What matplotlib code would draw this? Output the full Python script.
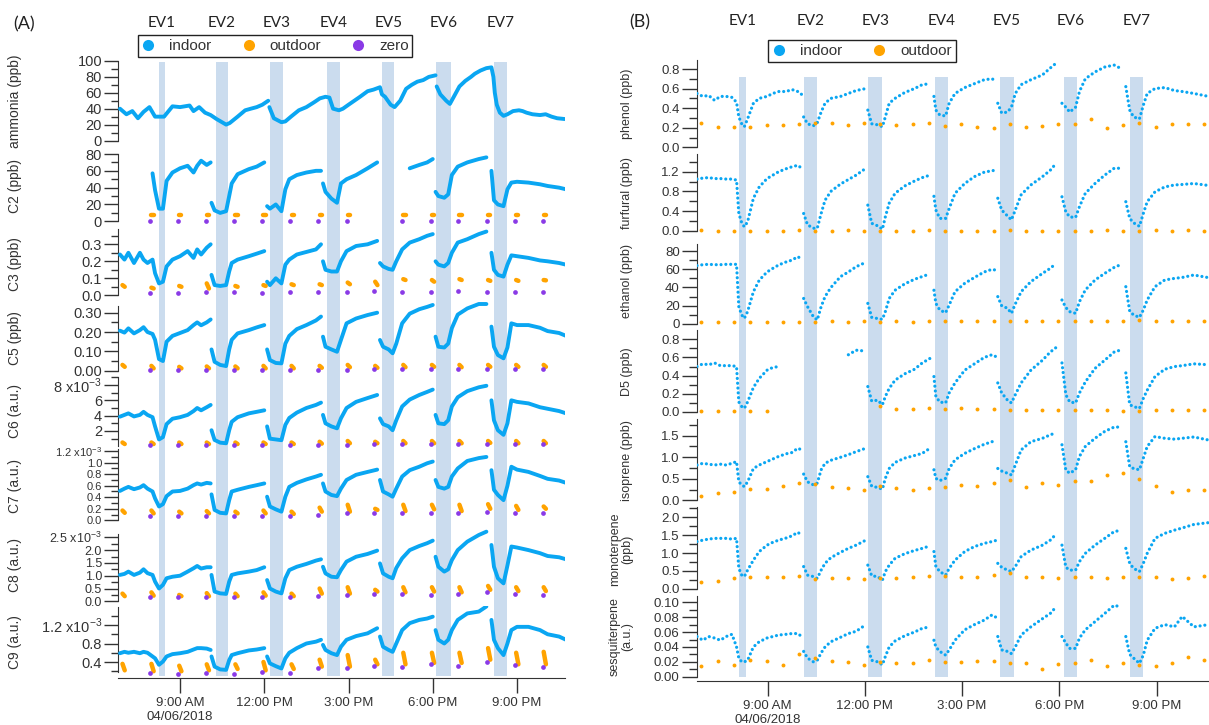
import numpy as np
import matplotlib.pyplot as plt
from matplotlib.ticker import FixedLocator, FuncFormatter
from matplotlib.lines import Line2D
from matplotlib.transforms import blended_transform_factory

plt.rcParams['font.family'] = ['Liberation Sans', 'DejaVu Sans']

nan = np.nan
W, H = 1209, 725

# ---------------- data (time in hours of 04/06/2018) ----------------
ev_names = ['EV1', 'EV2', 'EV3', 'EV4', 'EV5', 'EV6', 'EV7']
events_a = [(8.25, 8.46), (10.28, 10.71), (12.21, 12.67), (14.24, 14.70),
            (16.20, 16.63), (18.10, 18.64), (20.17, 20.64)]
events_b = [(8.11, 8.34), (10.13, 10.53), (12.11, 12.53), (14.16, 14.57),
            (16.17, 16.59), (18.14, 18.53), (20.17, 20.57)]

# panel A: ammonia
amm_t = [6.86, 7.09, 7.30, 7.50, 7.70, 7.91, 8.11, 8.43, 8.73, 9.00, 9.34, 9.48,
         9.68, 9.89, 10.09, 10.30, 10.64, 10.77, 11.05, 11.32, 11.52, 11.73, 11.93, 12.14,
         12.18, 12.34, 12.61, 12.75, 12.95, 13.23, 13.50, 13.77, 13.98, 14.18, 14.32, 14.45,
         14.66, 14.80, 15.00, 15.41, 15.68, 15.89, 16.12, 16.19, 16.30, 16.50, 16.64, 16.84,
         17.05, 17.25, 17.45, 17.66, 17.86, 18.10,
         18.14, 18.27, 18.48, 18.61, 18.75, 18.95, 19.16, 19.36, 19.50, 19.70, 19.91, 20.09,
         20.16, 20.21, 20.28, 20.39, 20.52, 20.66, 20.86, 21.07, 21.20, 21.34, 21.55, 21.82,
         22.02, 22.23, 22.43, 22.70]
ammonia = [40, 33, 37, 28, 36, 42, 30, 30, 43, 42, 44, 37, 42, 35, 32, 27, 20, 22, 30, 38,
           40, 42, 45, 50,
           42, 28, 23, 24, 30, 38, 42, 48, 53, 55, 54, 40, 38, 40, 45, 55, 62, 64, 67, 58,
           55, 45, 42, 50, 65, 70, 74, 76, 80, 82,
           68, 58, 50, 46, 55, 68, 75, 80, 84, 88, 91, 92,
           80, 60, 45, 35, 31, 33, 37, 38, 37, 35, 33, 32, 33, 30, 28, 27]
amm_breaks = [24, 54]

# panel A: C2..C9 indoor, shared sample times
t_a = [6.86, 7.02, 7.16, 7.36, 7.57, 7.70, 7.84, 8.02, 8.11, 8.25, 8.39, 8.52, 8.73, 9.00,
       9.27, 9.48, 9.61, 9.75, 9.95, 10.09,
       10.12, 10.23, 10.43, 10.64, 10.75, 10.84, 11.05, 11.45, 11.73, 12.00,
       12.10, 12.20, 12.41, 12.61, 12.75, 12.89, 13.16, 13.50, 13.84, 14.02,
       14.09, 14.18, 14.39, 14.59, 14.73, 14.93, 15.27, 15.68, 16.02,
       16.12, 16.23, 16.43, 16.57, 16.70, 16.91, 17.18, 17.52, 17.80, 18.00,
       18.10, 18.20, 18.41, 18.55, 18.68, 18.89, 19.23, 19.64, 19.91,
       20.09, 20.18, 20.32, 20.52, 20.66, 20.80, 21.00, 21.41, 21.82, 22.09, 22.50, 22.75]
breaks_a = [20, 30, 40, 49, 59, 68]

c2 = [nan, nan, nan, nan, nan, nan, nan, 57, 37, 15, 15, 48, 58, 63, 66, 58, 66, 72, 67, 70,
      22, 13, 10, 12, 30, 45, 56, 62, 65, 70,
      18, 15, 20, 12, 38, 50, 55, 58, 60, 60,
      45, 35, 27, 22, 45, 50, 55, 63, 70,
      nan, nan, nan, nan, nan, nan, 63, 67, 70, 74,
      35, 30, 28, 32, 55, 65, 70, 74, 76,
      60, 25, 20, 18, 38, 46, 47, 46, 44, 42, 40, 38]
c3 = [0.24, 0.21, 0.25, 0.19, 0.25, 0.21, 0.19, 0.21, 0.13, 0.07, 0.08, 0.17, 0.21, 0.23,
      0.26, 0.22, 0.27, 0.24, 0.28, 0.30,
      0.12, 0.06, 0.055, 0.06, 0.14, 0.19, 0.21, 0.23, 0.245, 0.26,
      0.08, 0.06, 0.10, 0.07, 0.18, 0.21, 0.24, 0.255, 0.27, 0.30,
      0.20, 0.15, 0.14, 0.14, 0.20, 0.26, 0.29, 0.30, 0.32,
      0.19, 0.17, 0.155, 0.15, 0.20, 0.27, 0.31, 0.33, 0.35, 0.36,
      0.20, 0.18, 0.17, 0.19, 0.25, 0.31, 0.33, 0.36, 0.375,
      0.25, 0.15, 0.12, 0.11, 0.18, 0.235, 0.23, 0.22, 0.205, 0.20, 0.19, 0.18]
c5 = [0.207, 0.197, 0.219, 0.193, 0.21, 0.225, 0.20, 0.19, 0.16, 0.06, 0.05, 0.15, 0.18,
      0.195, 0.21, 0.236, 0.25, 0.235, 0.25, 0.265,
      0.11, 0.046, 0.03, 0.024, 0.11, 0.16, 0.193, 0.21, 0.224, 0.236,
      0.11, 0.055, 0.04, 0.038, 0.14, 0.18, 0.215, 0.236, 0.26, 0.28,
      0.176, 0.124, 0.11, 0.098, 0.159, 0.245, 0.27, 0.288, 0.30,
      0.159, 0.124, 0.11, 0.09, 0.14, 0.245, 0.295, 0.318, 0.33, 0.34,
      0.176, 0.124, 0.12, 0.14, 0.22, 0.29, 0.322, 0.345, 0.345,
      0.228, 0.124, 0.081, 0.064, 0.12, 0.245, 0.236, 0.236, 0.222, 0.205, 0.195, 0.18]
c6 = [3.87, 4.1, 4.3, 3.9, 4.1, 4.5, 4.1, 3.8, 2.6, 0.9, 1.2, 2.9, 3.6, 3.8, 4.1, 4.6, 5.0,
      4.7, 5.1, 5.4,
      2.1, 0.83, 0.48, 0.4, 2.1, 3.2, 3.8, 4.3, 4.5, 4.7,
      2.6, 1.0, 0.9, 0.8, 2.8, 3.7, 4.4, 5.0, 5.4, 5.7,
      4.1, 3.0, 2.6, 2.35, 3.65, 5.0, 5.8, 6.3, 6.7,
      3.65, 2.9, 2.6, 2.1, 3.4, 5.2, 6.1, 6.7, 7.1, 7.4,
      4.1, 3.0, 2.9, 3.4, 5.2, 6.4, 7.2, 7.7, 7.9,
      6.0, 3.4, 2.1, 1.5, 3.0, 6.0, 5.8, 5.6, 5.1, 4.9, 4.6, 4.3]
c7 = [0.51, 0.55, 0.58, 0.54, 0.57, 0.61, 0.55, 0.50, 0.38, 0.24, 0.28, 0.42, 0.50, 0.51,
      0.55, 0.61, 0.64, 0.62, 0.65, 0.64,
      0.45, 0.18, 0.13, 0.12, 0.35, 0.50, 0.53, 0.58, 0.61, 0.64,
      0.41, 0.24, 0.19, 0.15, 0.41, 0.58, 0.65, 0.71, 0.76, 0.79,
      0.64, 0.50, 0.44, 0.42, 0.55, 0.70, 0.79, 0.84, 0.88,
      0.70, 0.50, 0.45, 0.41, 0.55, 0.76, 0.87, 0.93, 0.99, 1.02,
      0.70, 0.58, 0.55, 0.58, 0.76, 0.90, 1.03, 1.08, 1.10,
      0.87, 0.53, 0.44, 0.35, 0.60, 0.93, 0.88, 0.84, 0.77, 0.72, 0.69, 0.65]
c8 = [1.03, 1.07, 1.16, 1.03, 1.12, 1.25, 1.10, 1.03, 0.77, 0.50, 0.64, 0.90, 0.96, 1.00,
      1.16, 1.29, 1.38, 1.28, 1.33, 1.33,
      1.03, 0.38, 0.31, 0.29, 0.77, 1.03, 1.09, 1.16, 1.22, 1.33,
      0.83, 0.50, 0.38, 0.31, 0.90, 1.22, 1.35, 1.46, 1.59, 1.64,
      1.35, 1.09, 0.96, 0.94, 1.22, 1.55, 1.74, 1.85, 1.98,
      1.48, 1.09, 0.96, 0.90, 1.30, 1.68, 2.00, 2.16, 2.27, 2.37,
      1.74, 1.35, 1.16, 1.25, 1.61, 2.00, 2.33, 2.59, 2.72,
      2.20, 1.35, 0.90, 0.70, 1.40, 2.14, 2.10, 2.00, 1.88, 1.77, 1.72, 1.64]
c9 = [0.59, 0.62, 0.60, 0.62, 0.59, 0.62, 0.60, 0.52, 0.48, 0.34, 0.41, 0.52, 0.57, 0.59,
      0.62, 0.67, 0.70, 0.70, 0.69, 0.66,
      0.52, 0.30, 0.24, 0.23, 0.44, 0.55, 0.59, 0.65, 0.67, 0.70,
      0.52, 0.37, 0.31, 0.26, 0.48, 0.60, 0.70, 0.80, 0.84, 0.88,
      0.77, 0.66, 0.59, 0.55, 0.73, 0.88, 0.96, 1.02, 1.13,
      0.95, 0.73, 0.66, 0.62, 0.80, 1.09, 1.24, 1.31, 1.34, 1.38,
      1.09, 0.88, 0.80, 0.88, 1.09, 1.31, 1.45, 1.49, 1.60,
      1.31, 0.88, 0.70, 0.55, 0.80, 1.09, 1.16, 1.16, 1.09, 1.00, 0.95, 0.88]

# panel A: outdoor sampling (start / end of each period) and zero checks
out_a_t0 = [6.95, 7.98, 8.97, 9.95, 10.97, 11.97, 12.97, 13.97, 14.97, 15.95, 16.95, 17.97,
            18.95, 19.97, 20.97, 21.95]
out_a_t1 = [7.03, 8.06, 9.05, 10.03, 11.05, 12.05, 13.05, 14.05, 15.05, 16.03, 17.03, 18.05,
            19.03, 20.05, 21.05, 22.03]
zero_a_t = [7.93, 8.93, 9.91, 10.91, 11.91, 12.91, 13.91, 14.93, 15.89, 16.91, 17.93, 18.91,
            19.93, 20.93, 21.93]

c2_out = [nan, 7, 7, 7, 7, 7, 7, 7, 7, nan, 8, 7, 8, 7, 7, 8]
c2_zero = [0.3, 0.3, 0.3, 0.3, 0.3, 0.3, 0.3, 0.3, nan, 0.3, 0.3, 0.3, 0.3, 0.3, 0.3]
c3_out_hi = [0.06, 0.045, 0.055, 0.07, 0.055, 0.06, 0.065, 0.065, 0.075, 0.08, 0.095, 0.09,
             0.095, 0.09, 0.09, 0.09]
c3_out_lo = [0.05, 0.04, 0.05, 0.04, 0.05, 0.055, 0.06, 0.06, 0.065, 0.06, 0.09, 0.08, 0.09,
             0.085, 0.085, 0.088]
c3_zero = [0.016, 0.012, 0.02, 0.022, 0.016, 0.022, 0.022, 0.018, 0.027, 0.018, 0.022, 0.027,
           0.022, 0.022, 0.02]
c5_out_hi = [0.03, 0.025, 0.02, 0.022, 0.022, 0.025, 0.025, 0.025, 0.03, 0.025, 0.03, 0.03,
             0.03, 0.03, 0.03, 0.03]
c5_out_lo = [0.02, 0.012, 0.012, 0.012, 0.012, 0.012, 0.012, 0.015, 0.018, 0.015, 0.018, 0.02,
             0.018, 0.02, 0.02, 0.02]
c5_zero = [0.005, 0.005, 0.005, 0.005, 0.005, 0.005, 0.006, 0.006, 0.007, 0.007, 0.007,
           0.007, 0.008, 0.007, 0.007]
c6_out_hi = [0.5, 0.5, 0.5, 0.5, 0.5, 0.5, 0.5, 0.6, 0.7, 0.6, 0.7, 0.7, 0.7, 0.7, 0.7, 0.7]
c6_out_lo = [0.3, 0.3, 0.3, 0.3, 0.3, 0.3, 0.3, 0.35, 0.4, 0.4, 0.4, 0.4, 0.4, 0.45, 0.4, 0.4]
c6_zero = [0.15, 0.15, 0.15, 0.15, 0.15, 0.15, 0.2, 0.2, 0.25, 0.25, 0.25, 0.25, 0.3, 0.25,
           0.25]
c7_out_hi = [0.17, 0.17, 0.15, 0.16, 0.15, 0.17, 0.15, 0.22, 0.27, 0.20, 0.27, 0.27, 0.27,
             0.28, 0.25, 0.24]
c7_out_lo = [0.13, 0.12, 0.12, 0.12, 0.12, 0.12, 0.11, 0.15, 0.15, 0.18, 0.16, 0.19, 0.16,
             0.20, 0.18, 0.20]
c7_zero = [0.07, 0.07, 0.07, 0.07, 0.08, 0.07, 0.10, 0.12, 0.13, 0.13, 0.12, 0.13, 0.15,
           0.12, 0.12]
c8_out_hi = [0.30, 0.35, 0.25, 0.32, 0.30, 0.35, 0.30, 0.50, 0.55, 0.45, 0.55, 0.55, 0.55,
             0.60, 0.55, 0.55]
c8_out_lo = [0.20, 0.22, 0.20, 0.20, 0.20, 0.22, 0.20, 0.30, 0.30, 0.38, 0.35, 0.38, 0.35,
             0.45, 0.40, 0.40]
c8_zero = [0.18, 0.15, 0.17, 0.15, 0.18, 0.18, 0.22, 0.25, 0.27, 0.28, 0.25, 0.28, 0.35,
           0.28, 0.25]
c9_out_hi = [0.36, 0.36, 0.32, 0.35, 0.35, 0.40, 0.35, 0.45, 0.55, 0.45, 0.60, 0.60, 0.60,
             0.70, 0.60, 0.62]
c9_out_lo = [0.22, 0.20, 0.20, 0.22, 0.25, 0.22, 0.25, 0.30, 0.30, 0.35, 0.35, 0.38, 0.38,
             0.45, 0.35, 0.35]
c9_zero = [0.16, 0.15, 0.16, 0.15, 0.18, 0.165, 0.27, 0.28, 0.31, 0.29, 0.36, 0.32, 0.39,
           0.33, 0.29]

# panel B: indoor, shared sample times
t_b = [6.82, 7.00, 7.18, 7.36, 7.54, 7.72, 7.90, 8.04, 8.11, 8.20, 8.28, 8.38, 8.56, 8.74,
       8.98, 9.16, 9.34, 9.57, 9.75, 9.93, 10.05,
       10.11, 10.23, 10.41, 10.53, 10.65, 10.77, 10.95, 11.25, 11.49, 11.73, 12.03,
       12.09, 12.21, 12.39, 12.54, 12.63, 12.75, 12.93, 13.23, 13.53, 13.77, 14.01,
       14.13, 14.19, 14.31, 14.49, 14.60, 14.78, 15.08, 15.38, 15.68, 15.92, 16.04,
       16.10, 16.22, 16.40, 16.52, 16.64, 16.82, 17.12, 17.48, 17.72, 17.90,
       18.08, 18.20, 18.32, 18.50, 18.62, 18.80, 19.10, 19.40, 19.69, 19.87,
       20.05, 20.17, 20.29, 20.47, 20.59, 20.71, 20.95, 21.25, 21.55, 21.79, 22.15, 22.60]
breaks_b = [21, 32, 43, 54, 64, 74]

phenol = [0.55, 0.52, 0.53, 0.48, 0.52, 0.52, 0.51, 0.46, 0.31, 0.24, 0.21, 0.29, 0.45, 0.50,
          0.52, 0.55, 0.57, 0.57, 0.59, 0.57, 0.54,
          0.31, 0.24, 0.22, 0.25, 0.36, 0.45, 0.50, 0.52, 0.55, 0.58, 0.60,
          0.38, 0.24, 0.23, 0.21, 0.31, 0.45, 0.50, 0.56, 0.60, 0.64, 0.65,
          0.52, 0.38, 0.33, 0.32, 0.45, 0.55, 0.61, 0.65, 0.69, 0.70, 0.68,
          0.45, 0.35, 0.36, 0.41, 0.55, 0.64, 0.69, 0.74, 0.81, 0.86,
          0.45, 0.41, 0.36, 0.41, 0.57, 0.70, 0.77, 0.82, 0.84, 0.81,
          0.62, 0.38, 0.31, 0.29, 0.43, 0.55, 0.60, 0.61, 0.58, 0.57, 0.55, 0.52]
furfural = [1.05, 1.07, 1.08, 1.06, 1.06, 1.05, 1.05, 1.03, 0.35, 0.16, 0.08, 0.18, 0.66, 0.89,
            1.06, 1.13, 1.20, 1.26, 1.30, 1.33, 1.27,
            0.35, 0.12, 0.05, 0.05, 0.35, 0.62, 0.80, 0.95, 1.04, 1.13, 1.27,
            0.52, 0.15, 0.10, 0.03, 0.28, 0.56, 0.76, 0.91, 1.01, 1.08, 1.13,
            0.70, 0.42, 0.25, 0.25, 0.45, 0.76, 0.96, 1.10, 1.19, 1.22, 1.23,
            0.66, 0.42, 0.30, 0.22, 0.42, 0.73, 0.93, 1.10, 1.23, 1.37,
            0.69, 0.38, 0.28, 0.27, 0.49, 0.76, 0.96, 1.13, 1.27, 1.27,
            0.59, 0.25, 0.16, 0.09, 0.35, 0.59, 0.79, 0.89, 0.93, 0.94, 0.96, 0.92]
ethanol = [64, 65, 65.4, 65, 65, 65.4, 65.4, 65.4, 19, 9.9, 6.2, 13.5, 35.4, 48, 57, 61,
           64.7, 68, 70, 73.8, 71,
           28, 19, 8, 4.4, 19, 30, 40, 52, 57, 62.8, 67.6,
           22.6, 7.3, 6, 5.1, 13.5, 28, 37, 44, 49, 52, 55,
           37, 22.6, 15.3, 12.4, 20.8, 35.4, 44.6, 51, 57, 59.9, 59,
           30, 20, 17.2, 11.7, 22, 35.4, 46.4, 55.5, 61, 66.5,
           26.3, 18, 13.5, 11.7, 24.5, 37.3, 48.2, 55.5, 62, 64.7,
           40.9, 14, 9.9, 7.3, 15.3, 26.3, 40.9, 48.2, 50, 51, 53.7, 50.8]
d5 = [0.50, 0.53, 0.52, 0.54, 0.51, 0.51, 0.51, 0.50, 0.11, 0.06, 0.04, 0.11, 0.27, 0.37,
      0.46, 0.49, 0.50, nan, nan, nan, nan,
      nan, nan, nan, nan, nan, nan, nan, nan, 0.63, 0.68, 0.67,
      0.28, 0.12, 0.13, 0.08, 0.17, 0.26, 0.35, 0.42, 0.47, 0.54, 0.59,
      0.39, 0.17, 0.11, 0.10, 0.21, 0.32, 0.46, 0.53, 0.60, 0.63, 0.61,
      0.32, 0.21, 0.13, 0.10, 0.19, 0.32, 0.46, 0.57, 0.66, 0.71,
      0.54, 0.19, 0.11, 0.10, 0.21, 0.33, 0.48, 0.57, 0.66, 0.68,
      0.43, 0.08, 0.06, 0.04, 0.15, 0.24, 0.39, 0.47, 0.50, 0.51, 0.53, 0.52]
isoprene = [0.82, 0.86, 0.84, 0.82, 0.84, 0.82, 0.86, 0.90, 0.43, 0.36, 0.32, 0.43, 0.74, 0.82,
            0.90, 0.96, 1.02, 1.08, 1.11, 1.21, 1.17,
            0.61, 0.43, 0.36, 0.40, 0.71, 0.86, 0.93, 1.00, 1.06, 1.13, 1.21,
            0.55, 0.33, 0.30, 0.26, 0.51, 0.74, 0.88, 0.98, 1.04, 1.09, 1.21,
            0.71, 0.51, 0.46, 0.51, 0.74, 0.94, 1.09, 1.20, 1.30, 1.36, 1.39,
            0.74, 0.68, 0.63, 0.59, 0.82, 1.17, 1.36, 1.44, 1.52, 1.57,
            1.29, 0.70, 0.63, 0.71, 1.02, 1.25, 1.44, 1.60, 1.70, 1.70,
            1.36, 0.78, 0.74, 0.71, 0.98, 1.25, 1.48, 1.44, 1.42, 1.44, 1.47, 1.40]
monoterpene = [1.32, 1.36, 1.39, 1.41, 1.41, 1.41, 1.39, 1.41, 0.57, 0.38, 0.34, 0.52, 0.80,
               1.04, 1.22, 1.30, 1.36, 1.42, 1.48, 1.58, 1.50,
               0.62, 0.38, 0.34, 0.29, 0.52, 0.71, 0.87, 1.02, 1.13, 1.22, 1.36,
               0.66, 0.36, 0.34, 0.24, 0.48, 0.66, 0.85, 0.98, 1.07, 1.13, 1.20,
               1.04, 0.62, 0.48, 0.38, 0.57, 0.80, 1.04, 1.18, 1.27, 1.32, 1.35,
               0.71, 0.60, 0.52, 0.48, 0.62, 0.90, 1.08, 1.22, 1.36, 1.53,
               1.22, 0.60, 0.52, 0.52, 0.76, 0.99, 1.22, 1.41, 1.60, 1.63,
               1.13, 0.71, 0.57, 0.48, 0.71, 0.99, 1.41, 1.55, 1.64, 1.70, 1.80, 1.85]
sesquiterpene = [0.054, 0.049, 0.054, 0.052, 0.049, 0.054, 0.057, 0.040, 0.025, 0.020, 0.020,
                 0.022, 0.040, 0.047, 0.052, 0.054, 0.056, 0.057, 0.058, 0.058, 0.054,
                 0.034, 0.025, 0.020, 0.022, 0.032, 0.040, 0.047, 0.053, 0.058, 0.061, 0.070,
                 0.040, 0.022, 0.020, 0.016, 0.027, 0.040, 0.048, 0.055, 0.060, 0.065, 0.067,
                 0.049, 0.040, 0.034, 0.029, 0.036, 0.049, 0.063, 0.070, 0.076, 0.083, 0.080,
                 0.054, 0.036, 0.034, 0.031, 0.040, 0.056, 0.067, 0.078, 0.085, 0.094,
                 0.054, 0.045, 0.038, 0.038, 0.052, 0.063, 0.074, 0.085, 0.096, 0.094,
                 0.054, 0.030, 0.025, 0.018, 0.029, 0.049, 0.065, 0.070, 0.067, 0.081, 0.067,
                 0.070]

# panel B: outdoor samples
out_b_t = [6.95, 7.47, 7.97, 8.47, 8.97, 9.47, 9.97, 10.47, 10.97, 11.47, 11.97, 12.47,
           12.97, 13.47, 13.97, 14.47, 14.97, 15.47, 15.97, 16.47, 16.97, 17.47, 17.97, 18.47,
           18.97, 19.47, 19.97, 20.47, 20.97, 21.47, 21.97, 22.47]
phenol_out = [0.25, 0.21, 0.21, 0.21, 0.23, 0.23, 0.24, 0.25, 0.25, 0.23, 0.25, 0.24, 0.23,
              0.24, 0.25, 0.22, 0.24, 0.21, 0.20, 0.24, 0.21, 0.22, 0.24, 0.24, 0.29, 0.20,
              0.23, 0.25, 0.21, 0.24, 0.24, 0.24]
furfural_out = [0.01, 0.0, 0.0, 0.0, 0.0, 0.0, 0.01, 0.0, 0.0, 0.01, 0.0, 0.0, 0.0, 0.0, 0.01,
                0.0, 0.0, 0.0, 0.0, 0.01, 0.0, 0.0, 0.0, 0.0, 0.0, 0.01, 0.0, 0.0, 0.01, 0.0,
                0.01, 0.0]
ethanol_out = [2, 2, 2, 2, 2, 2, 2, 2, 3, 2, 3, 2, 3, 2, 3, 3, 3, 3, 3, 3, 3, 3, 3, 3, 3, 3,
               3, 4, 3, 3, 3, 3]
d5_out = [0.01, 0.01, 0.01, 0.01, 0.01, nan, nan, nan, nan, nan, nan, 0.07, 0.03, 0.03, 0.04,
          0.03, 0.04, 0.03, 0.03, 0.02, 0.02, 0.02, 0.02, 0.02, 0.02, 0.02, 0.01, 0.01, 0.02,
          0.02, 0.02, 0.02]
isoprene_out = [0.10, 0.16, 0.20, 0.26, 0.26, 0.34, 0.40, 0.38, 0.32, 0.28, 0.24, 0.34, 0.28,
                0.24, 0.28, 0.32, 0.36, 0.34, 0.41, 0.48, 0.32, 0.40, 0.36, 0.46, 0.44, 0.60,
                0.63, 0.49, 0.34, 0.20, 0.23, 0.23]
monoterpene_out = [0.20, 0.22, 0.29, 0.32, 0.34, 0.32, 0.36, 0.26, 0.29, 0.29, 0.28, 0.29,
                   0.29, 0.32, 0.36, 0.36, 0.34, 0.32, 0.37, 0.43, 0.32, 0.32, 0.29, 0.32,
                   0.34, 0.29, 0.32, 0.32, 0.32, 0.28, 0.29, 0.36]
sesquiterpene_out = [0.014, 0.021, 0.016, 0.022, 0.021, 0.016, 0.031, 0.025, 0.021, 0.020,
                     0.016, 0.020, 0.019, 0.018, 0.022, 0.020, 0.020, 0.021, 0.021, 0.018,
                     0.019, 0.011, 0.017, 0.019, 0.022, 0.014, 0.019, 0.016, 0.014, 0.018,
                     0.026, 0.022]

x_ticks = [9, 12, 15, 18, 21]
x_labels = ['9:00 AM\n04/06/2018', '12:00 PM', '3:00 PM', '6:00 PM', '9:00 PM']

# ---------------- styling ----------------
BLUE = '#0aa6f2'
ORANGE = '#ffa300'
PURPLE = '#8a3ae6'
BAND = '#cbdcee'
INK = '#333333'

fig = plt.figure(figsize=(W / 100, H / 100), dpi=100)


def px_axes(x0, x1, top, bot):
    return fig.add_axes([x0 / W, 1 - bot / H, (x1 - x0) / W, (bot - top) / H])


def ylim_from(top, bot, ref):
    v1, p1, v2, p2 = ref
    k = (p2 - p1) / (v1 - v2)
    return v2 + (p2 - bot) / k, v2 + (p2 - top) / k


def tick_fmt(dec, sci_at=None):
    def f(v, pos):
        s = f'{v:.{dec}f}'
        if sci_at is not None and abs(v - sci_at) < 1e-9:
            s += r' x10$^{\mathregular{-3}}$'
        return s
    return FuncFormatter(f)


def with_breaks(t, v, breaks):
    return np.insert(np.asarray(t, float), breaks, nan), np.insert(np.asarray(v, float), breaks, nan)


def style_axis(ax, spec, lsize, tlen):
    ax.set_ylim(*ylim_from(spec['box'][0], spec['box'][1], spec['ref']))
    for s in ['top', 'right', 'bottom']:
        ax.spines[s].set_visible(False)
    ax.spines['left'].set_bounds(*spec['spine'])
    ax.spines['left'].set_color(INK)
    ax.yaxis.set_major_locator(FixedLocator(spec['major']))
    ax.yaxis.set_minor_locator(FixedLocator(spec['minor']))
    ax.yaxis.set_major_formatter(tick_fmt(spec['dec'], spec.get('sci')))
    ax.tick_params(axis='y', which='major', length=tlen, width=1, pad=1.5,
                   labelsize=spec.get('lsize', lsize), colors=INK)
    ax.tick_params(axis='y', which='minor', length=tlen * 0.5, width=1, colors=INK)
    ax.tick_params(axis='x', which='both', bottom=False, labelbottom=False)
    ax.patch.set_alpha(0)


def bottom_axis(ax):
    ax.spines['bottom'].set_visible(True)
    ax.spines['bottom'].set_color(INK)
    ax.set_xticks(x_ticks)
    ax.set_xticklabels(x_labels)
    ax.tick_params(axis='x', which='major', bottom=True, labelbottom=True, length=11,
                   width=1, pad=3, labelsize=9.5, colors=INK)


# ---------------- panel A ----------------
left = [
    dict(label='ammonia (ppb)', box=(56, 146), ref=(100, 61, 0, 140.5), spine=(0, 100),
         major=[0, 20, 40, 60, 80, 100], minor=[10, 30, 50, 70, 90], dec=0),
    dict(label='C2 (ppb)', v=c2, out=(c2_out, c2_out), zero=c2_zero, box=(146, 226),
         ref=(80, 154, 0, 221.3), spine=(0, 80), major=[0, 20, 40, 60, 80],
         minor=[10, 30, 50, 70], dec=0),
    dict(label='C3 (ppb)', v=c3, out=(c3_out_hi, c3_out_lo), zero=c3_zero, box=(226, 302),
         ref=(0.3, 244.3, 0.0, 295.3), spine=(0, 0.39), major=[0, 0.1, 0.2, 0.3],
         minor=[0.05, 0.15, 0.25, 0.35], dec=1),
    dict(label='C5 (ppb)', v=c5, out=(c5_out_hi, c5_out_lo), zero=c5_zero, box=(302, 375),
         ref=(0.30, 312.7, 0.0, 370.7), spine=(0, 0.335), major=[0, 0.1, 0.2, 0.3],
         minor=[0.05, 0.15, 0.25], dec=2),
    dict(label='C6 (a.u.)', v=c6, out=(c6_out_hi, c6_out_lo), zero=c6_zero, box=(375, 448),
         ref=(8, 385, 2, 431), spine=(0.1, 9.1), major=[2, 4, 6, 8], minor=[1, 3, 5, 7, 9],
         dec=0, sci=8),
    dict(label='C7 (a.u.)', v=c7, out=(c7_out_hi, c7_out_lo), zero=c7_zero, box=(448, 524),
         ref=(1.0, 462.7, 0.0, 520.3), spine=(0, 1.24),
         major=[0, 0.2, 0.4, 0.6, 0.8, 1.0, 1.2], minor=[0.1, 0.3, 0.5, 0.7, 0.9, 1.1],
         dec=1, sci=1.2, lsize=8),
    dict(label='C8 (a.u.)', v=c8, out=(c8_out_hi, c8_out_lo), zero=c8_zero, box=(524, 606),
         ref=(2.5, 537.3, 0.0, 601.3), spine=(0, 2.62), major=[0, 0.5, 1.0, 1.5, 2.0, 2.5],
         minor=[0.25, 0.75, 1.25, 1.75, 2.25], dec=1, sci=2.5, lsize=9),
    dict(label='C9 (a.u.)', v=c9, out=(c9_out_hi, c9_out_lo), zero=c9_zero, box=(606, 678),
         ref=(1.2, 625, 0.4, 662), spine=(0.18, 1.58), major=[0.4, 0.8, 1.2],
         minor=[0.2, 0.6, 1.0, 1.4], dec=1, sci=1.2),
]

axes_a = []
for i, spec in enumerate(left):
    ax = px_axes(118, 565, *spec['box'])
    ax.set_xlim(6.79, 22.71)
    style_axis(ax, spec, 10.5, 10)
    if i == 0:
        tt, vv = with_breaks(amm_t, ammonia, amm_breaks)
    else:
        tt, vv = with_breaks(t_a, spec['v'], breaks_a)
    ax.plot(tt, vv, color=BLUE, lw=2.8, solid_capstyle='round', solid_joinstyle='round',
            zorder=3)
    if 'out' in spec:
        hi, lo = spec['out']
        for t0, t1, a, b in zip(out_a_t0, out_a_t1, hi, lo):
            ax.plot([t0, t1], [a, b], color=ORANGE, lw=3.2, solid_capstyle='round', zorder=3)
        ax.plot(zero_a_t, spec['zero'], 'o', ms=3.4, color=PURPLE, mec='none', zorder=3)
    n = len(left)
    for t0, t1 in events_a:
        lo_f = (678 - 676) / (678 - 606) if i == n - 1 else 0
        hi_f = (146 - 62) / (146 - 56) if i == 0 else 1
        ax.axvspan(t0, t1, ymin=lo_f, ymax=hi_f, color=BAND, lw=0, zorder=1)
    ax.set_ylabel(spec['label'], fontsize=10, color=INK)
    ax.yaxis.set_label_coords((22 - 118) / 447, 0.5)
    axes_a.append(ax)
bottom_axis(axes_a[-1])

# ---------------- panel B ----------------
right = [
    dict(label='phenol (ppb)', v=phenol, out=phenol_out, box=(56, 151),
         ref=(0.8, 69, 0.0, 147.3), spine=(0, 0.89), major=[0, 0.2, 0.4, 0.6, 0.8],
         minor=[0.1, 0.3, 0.5, 0.7], dec=1),
    dict(label='furfural (ppb)', v=furfural, out=furfural_out, box=(151, 235),
         ref=(1.2, 171.7, 0.0, 230.7), spine=(0, 1.55), major=[0, 0.4, 0.8, 1.2],
         minor=[0.2, 0.6, 1.0, 1.4], dec=1),
    dict(label='ethanol (ppb)', v=ethanol, out=ethanol_out, box=(235, 328),
         ref=(80, 251, 0, 324), spine=(0, 88), major=[0, 20, 40, 60, 80],
         minor=[10, 30, 50, 70], dec=0),
    dict(label='D5 (ppb)', v=d5, out=d5_out, box=(328, 416), ref=(0.8, 339.3, 0.0, 412),
         spine=(0, 0.9), major=[0, 0.2, 0.4, 0.6, 0.8], minor=[0.1, 0.3, 0.5, 0.7], dec=1),
    dict(label='isoprene (ppb)', v=isoprene, out=isoprene_out, box=(416, 505),
         ref=(1.5, 435.7, 0.0, 500.4), spine=(0, 1.88), major=[0, 0.5, 1.0, 1.5],
         minor=[0.25, 0.75, 1.25, 1.75], dec=1),
    dict(label='monoterpene\n(ppb)', v=monoterpene, out=monoterpene_out, box=(505, 593),
         ref=(2.0, 517.3, 0.0, 588.7), spine=(0, 2.28), major=[0, 0.5, 1.0, 1.5, 2.0],
         minor=[0.25, 0.75, 1.25, 1.75, 2.25], dec=1),
    dict(label='sesquiterpene\n(a.u.)', v=sesquiterpene, out=sesquiterpene_out,
         box=(593, 681), ref=(0.10, 602.3, 0.0, 676.7), spine=(0, 0.109),
         major=[0, 0.02, 0.04, 0.06, 0.08, 0.10], minor=[0.01, 0.03, 0.05, 0.07, 0.09],
         dec=2),
]

axes_b = []
for i, spec in enumerate(right):
    ax = px_axes(697, 1213, *spec['box'])
    ax.set_xlim(6.82, 22.74)
    style_axis(ax, spec, 9.5, 11)
    tt, vv = with_breaks(t_b, spec['v'], breaks_b)
    ax.plot(tt, vv, color=BLUE, lw=2.3, ls=(0, (0.01, 1.5)), dash_capstyle='round', zorder=3)
    ax.plot(out_b_t, spec['out'], 'o', ms=2.8, color=ORANGE, mec='none', zorder=3)
    n = len(right)
    for t0, t1 in events_b:
        lo_f = (681 - 676.7) / (681 - 593) if i == n - 1 else 0
        hi_f = (151 - 77) / (151 - 56) if i == 0 else 1
        ax.axvspan(t0, t1, ymin=lo_f, ymax=hi_f, color=BAND, lw=0, zorder=1)
    ax.set_ylabel(spec['label'], fontsize=9, color=INK, linespacing=1.0)
    ax.yaxis.set_label_coords((633 - 697) / 516, 0.5)
    axes_b.append(ax)
bottom_axis(axes_b[-1])

# ---------------- annotations ----------------
for ax, evs, y in [(axes_a[0], events_a, 23), (axes_b[0], events_b, 21)]:
    tr = blended_transform_factory(ax.transData, fig.transFigure)
    for name, (t0, t1) in zip(ev_names, evs):
        ax.text((t0 + t1) / 2, 1 - y / H, name, transform=tr, ha='center', va='center',
                fontsize=11, family=['Lato', 'DejaVu Sans'], color='#222222')
fig.text(24 / W, 1 - 24 / H, '(A)', ha='center', va='center', fontsize=13,
         family=['Lato', 'DejaVu Sans'], color='#222222')
fig.text(640 / W, 1 - 22 / H, '(B)', ha='center', va='center', fontsize=13,
         family=['Lato', 'DejaVu Sans'], color='#222222')


def dot(c):
    return Line2D([], [], marker='o', ls='none', color=c, mec='none', ms=8)


leg_a = fig.legend([dot(BLUE), dot(ORANGE), dot(PURPLE)], ['indoor', 'outdoor', 'zero'],
                   loc='center', bbox_to_anchor=(275 / W, 1 - 46 / H), ncol=3,
                   fancybox=False, edgecolor='#222222', framealpha=1, fontsize=11,
                   handlelength=0.9, handletextpad=0.9, columnspacing=2.0, borderpad=0.25)
leg_b = fig.legend([dot(BLUE), dot(ORANGE)], ['indoor', 'outdoor'], loc='center',
                   bbox_to_anchor=(862 / W, 1 - 51 / H), ncol=2, fancybox=False,
                   edgecolor='#222222', framealpha=1, fontsize=11, handlelength=0.9,
                   handletextpad=0.9, columnspacing=2.0, borderpad=0.25)
for lg in (leg_a, leg_b):
    lg.get_frame().set_linewidth(1.0)
    for txt in lg.get_texts():
        txt.set_color(INK)

fig.savefig('out.png', dpi=100)
